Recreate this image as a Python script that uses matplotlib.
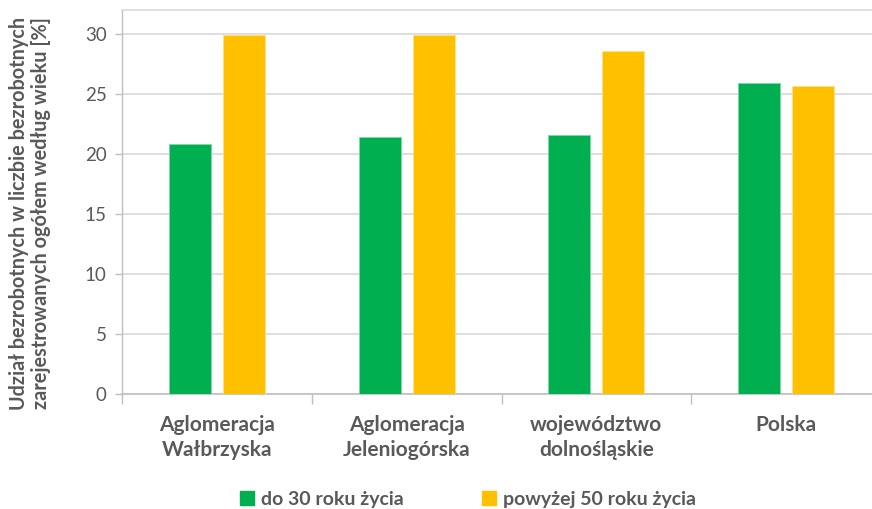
import matplotlib
matplotlib.use("Agg")
import matplotlib.pyplot as plt
import numpy as np
from matplotlib.patches import Rectangle

categories = ["Aglomeracja\nWałbrzyska", "Aglomeracja\nJeleniogórska", "województwo\ndolnośląskie", "Polska"]
series_names = ["do 30 roku życia", "powyżej 50 roku życia"]
under30 = [20.8, 21.4, 21.6, 25.9]
over50 = [29.9, 29.9, 28.6, 25.7]
yticks = [0, 5, 10, 15, 20, 25, 30]
ylabel = "Udział bezrobotnych w liczbie bezrobotnych\nzarejestrowanych ogółem według wieku [%]"

GREEN = "#00B050"
YELLOW = "#FFC000"
TXT = "#595959"
GRID = "#d9d9d9"
AX = "#bfbfbf"

plt.rcParams['font.family'] = ['Lato', 'DejaVu Sans']

fig = plt.figure(figsize=(8.72, 5.09), dpi=100)
ax = fig.add_axes([122/872, 1-394/509, 759/872, 384/509])

x = np.arange(len(categories))
w = 0.222
off = 0.142
ax.bar(x - off, under30, w, color=GREEN, edgecolor="#7fd7a7", linewidth=0.6, zorder=3)
ax.bar(x + off, over50, w, color=YELLOW, edgecolor="#ffe08a", linewidth=0.6, zorder=3)

ax.set_xlim(-0.5, 3.5)
ax.set_ylim(0, 32)
ax.set_yticks(yticks)
ax.set_yticklabels([str(v) for v in yticks])
ax.yaxis.grid(True, color=GRID, linewidth=1.2, zorder=0)
ax.set_axisbelow(True)

ax.set_xticks(x)
ax.set_xticklabels(categories, fontweight='bold', fontsize=15, color=TXT, linespacing=1.3)
ax.set_xticks(np.arange(-0.5, 4.0, 1.0), minor=True)
ax.tick_params(axis='x', which='major', length=0, pad=15)
ax.tick_params(axis='x', which='minor', length=7, color=AX, width=1, direction='out')
ax.tick_params(axis='y', length=5, color=AX, width=1, direction='out', labelsize=13.5, labelcolor=TXT, pad=6)

ax.spines['right'].set_visible(False)
ax.spines['top'].set_color(GRID)
ax.spines['top'].set_linewidth(1.2)
ax.spines['left'].set_color(AX)
ax.spines['bottom'].set_color(AX)
ax.spines['left'].set_linewidth(1)
ax.spines['bottom'].set_linewidth(1.2)

ax.set_ylabel(ylabel, fontsize=14.3, fontweight='bold', color=TXT, linespacing=1.15, labelpad=12)
ax.yaxis.set_label_coords(-0.093, 0.47)

handles = [Rectangle((0, 0), 1, 1, color=GREEN), Rectangle((0, 0), 1, 1, color=YELLOW)]
leg = fig.legend(handles, series_names, loc='center', bbox_to_anchor=(468/872, 0.019),
                 ncol=2, frameon=False, handlelength=0.75, handleheight=0.75,
                 handletextpad=0.35, columnspacing=4.0,
                 prop={'weight': 'bold', 'size': 14})
for t in leg.get_texts():
    t.set_color(TXT)

fig.savefig("out.png", dpi=100)
